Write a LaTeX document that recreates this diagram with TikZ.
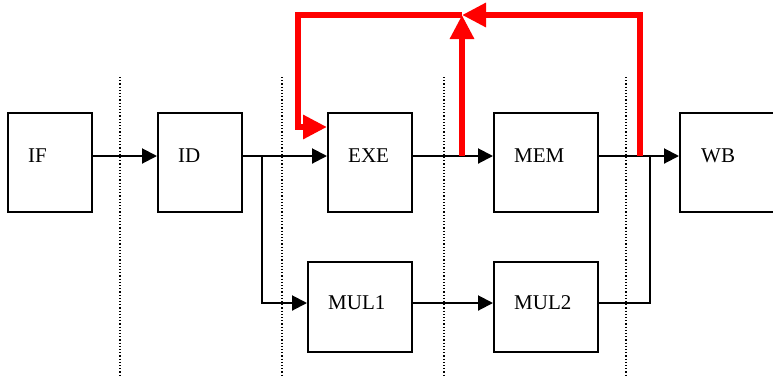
\documentclass[tikz,border=0pt]{standalone}
\usepackage{fontspec}
\setmainfont{Liberation Serif}
\usetikzlibrary{arrows.meta}
\begin{document}
\begin{tikzpicture}[x=1pt,y=-1pt,
  box/.style={draw, line width=2pt, inner sep=0pt},
  lbl/.style={anchor=west, inner sep=0pt, font=\fontsize{21}{24}\selectfont},
  conn/.style={line width=2pt, -{Triangle[length=15pt,width=15pt]}},
  plainline/.style={line width=2pt},
  sep/.style={line width=1.2pt, dash pattern=on 1.2pt off 2pt},
  fwd/.style={draw=red, line width=6.5pt, -{Triangle[length=24pt,width=23pt]}}]
\useasboundingbox (0,0) rectangle (773,376);
\clip (0,0) rectangle (773,376);
% stage separators
\draw[sep] (120,77) -- (120,376);
\draw[sep] (282,77) -- (282,376);
\draw[sep] (444,77) -- (444,376);
\draw[sep] (626,77) -- (626,376);
% boxes
\node[box, minimum width=84pt, minimum height=99pt] (IF) at (50,162.5) {};
\node[box, minimum width=84pt, minimum height=99pt] (ID) at (200,162.5) {};
\node[box, minimum width=84pt, minimum height=99pt] (EXE) at (370,162.5) {};
\node[box, minimum width=104pt, minimum height=99pt] (MEM) at (546,162.5) {};
\node[box, minimum width=104pt, minimum height=99pt] (WB) at (732,162.5) {};
\node[box, minimum width=104pt, minimum height=90pt] (MUL1) at (360,307) {};
\node[box, minimum width=104pt, minimum height=90pt] (MUL2) at (546,307) {};
% labels
\node[lbl] (IFt) at (28,156) {IF};
\node[lbl] (IDt) at (178,156) {ID};
\node[lbl] (EXEt) at (348,156) {EXE};
\node[lbl] (MEMt) at (514,156) {MEM};
\node[lbl] (WBt) at (701,156) {WB};
\node[lbl] (M1t) at (328,303) {MUL1};
\node[lbl] (M2t) at (514,303) {MUL2};
% black connectors
\coordinate (br) at (262,156);
\coordinate (jn) at (650,156);
\draw[conn] (IF.east |- IFt.west) -- (ID.west |- IFt.west);
\draw[conn] (ID.east |- IDt.west) -- (EXE.west |- EXEt.west);
\draw[conn] (br) |- (MUL1.west |- M1t.west);
\draw[conn] (EXE.east |- EXEt.west) -- (MEM.west |- MEMt.west);
\draw[conn] (MEM.east |- MEMt.west) -- (WB.west |- WBt.west);
\draw[conn] (MUL1.east |- M1t.west) -- (MUL2.west |- M2t.west);
\draw[plainline] (MUL2.east |- M2t.west) -| (jn);
% red forwarding paths
\coordinate (r1) at (462,156);
\coordinate (rt) at (462,15);
\coordinate (r2) at (640,156);
\coordinate (tl) at (298,15);
\coordinate (eb) at (298,127);
\draw[fwd] (r1) -- (rt);
\draw[fwd] (r2) |- (rt);
\draw[fwd] (rt) -- (tl) -- (eb) -- (EXE.west |- eb);
\end{tikzpicture}
\end{document}
